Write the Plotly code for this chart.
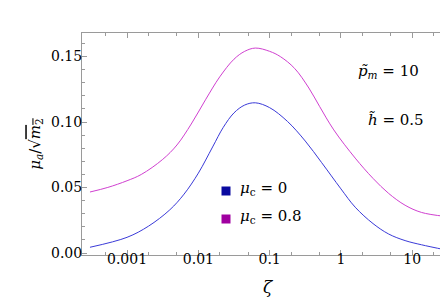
import plotly.graph_objects as go

# log10(zeta) sample positions and values
blue_logz = [-3.52, -3.0, -2.7, -2.4, -2.2, -2.0, -1.8, -1.65, -1.5, -1.35, -1.2,
             -1.0, -0.75, -0.5, -0.27, 0.0, 0.2, 0.45, 0.67, 0.9, 1.13, 1.46]
blue_vals = [0.0044, 0.012, 0.0205, 0.033, 0.045, 0.061, 0.081, 0.096, 0.107, 0.113, 0.1147,
             0.111, 0.1005, 0.0855, 0.069, 0.049, 0.035, 0.0225, 0.0145, 0.0095, 0.0063, 0.0025]

mag_logz = [-3.52, -3.27, -3.0, -2.8, -2.5, -2.3, -2.1, -1.9, -1.7, -1.5, -1.35, -1.2,
            -1.0, -0.85, -0.65, -0.45, -0.3, -0.1, 0.2, 0.45, 0.67, 0.9, 1.13, 1.46]
mag_vals = [0.0466, 0.0501, 0.0552, 0.060, 0.0715, 0.0825, 0.0985, 0.117, 0.1345, 0.148, 0.154, 0.1565,
            0.154, 0.150, 0.141, 0.126, 0.112, 0.094, 0.0725, 0.057, 0.0455, 0.0365, 0.031, 0.028]

x_tickvals = [0.001, 0.01, 0.1, 1, 10]
x_ticktext = ["0.001", "0.01", "0.1", "1", "10"]
y_tickvals = [0.0, 0.05, 0.10, 0.15]

legend_labels = ["<i>μ</i><sub>c</sub> = 0", "<i>μ</i><sub>c</sub> = 0.8"]
legend_colors = ["#0a0aa0", "#a000a0"]
line_colors = ["#3a3ad8", "#d040d0"]

FONT = "DejaVu Serif"

# plot-area pixel box (used to place paper-referenced annotations)
PL, PR, PT, PB = 74, 445, 25, 247


def px(x):
    return (x - PL) / (PR - PL)


def py(y):
    return (PB - y) / (PB - PT)


fig = go.Figure()
fig.add_trace(go.Scatter(x=[10 ** v for v in blue_logz], y=blue_vals, mode="lines",
                         line=dict(color=line_colors[0], width=1, shape="spline", smoothing=1.0),
                         showlegend=False))
fig.add_trace(go.Scatter(x=[10 ** v for v in mag_logz], y=mag_vals, mode="lines",
                         line=dict(color=line_colors[1], width=1, shape="spline", smoothing=1.0),
                         showlegend=False))

axis_common = dict(showline=True, linecolor="#9a9a9a", linewidth=1, mirror="allticks",
                   ticks="inside", tickcolor="#9a9a9a", ticklen=5, showgrid=False, zeroline=False,
                   tickfont=dict(family=FONT, size=14, color="black"))

fig.update_xaxes(type="log", range=[-3.632, 1.572], tickvals=x_tickvals, ticktext=x_ticktext,
                 minor=dict(ticks="inside", ticklen=3, tickcolor="#9a9a9a", showgrid=False),
                 ticklabelstandoff=-9,
                 title=dict(text="<i>ζ</i>", font=dict(family=FONT, size=17, color="black"), standoff=15),
                 **axis_common)
fig.update_yaxes(range=[-0.0015, 0.168], tickvals=y_tickvals, tickformat=".2f",
                 minor=dict(ticks="inside", ticklen=3, tickcolor="#9a9a9a", dtick=0.01, showgrid=False),
                 ticklabelstandoff=-4,
                 title=dict(text="<i>μ</i><sub><i>a</i></sub>/√<span style='text-decoration:overline'><i>m</i><sub>2</sub></span>",
                            font=dict(family=FONT, size=15, color="black"), standoff=6),
                 **axis_common)

annotations = [
    dict(x=413, y=64, text="<i>p̃</i><sub><i>m</i></sub> = 10", xanchor="right"),
    dict(x=418, y=112, text="<i>h̃</i> = 0.5", xanchor="right"),
    dict(x=230, y=180, text=legend_labels[0], xanchor="left"),
    dict(x=230, y=208, text=legend_labels[1], xanchor="left"),
]
for a in annotations:
    fig.add_annotation(x=px(a["x"]), y=py(a["y"]), xref="paper", yref="paper",
                       text=a["text"], xanchor=a["xanchor"], yanchor="middle", showarrow=False,
                       font=dict(family=FONT, size=15, color="black"))

# legend squares
for cy, col in zip([183, 211], legend_colors):
    fig.add_shape(type="rect", xref="paper", yref="paper",
                  x0=px(213.5), x1=px(222.5), y0=py(cy + 4.5), y1=py(cy - 4.5),
                  fillcolor=col, line=dict(width=0))

fig.update_layout(width=448, height=300, margin=dict(l=PL, r=448 - PR, t=PT, b=300 - PB),
                  paper_bgcolor="white", plot_bgcolor="white", showlegend=False)

fig.write_html("out.html")
